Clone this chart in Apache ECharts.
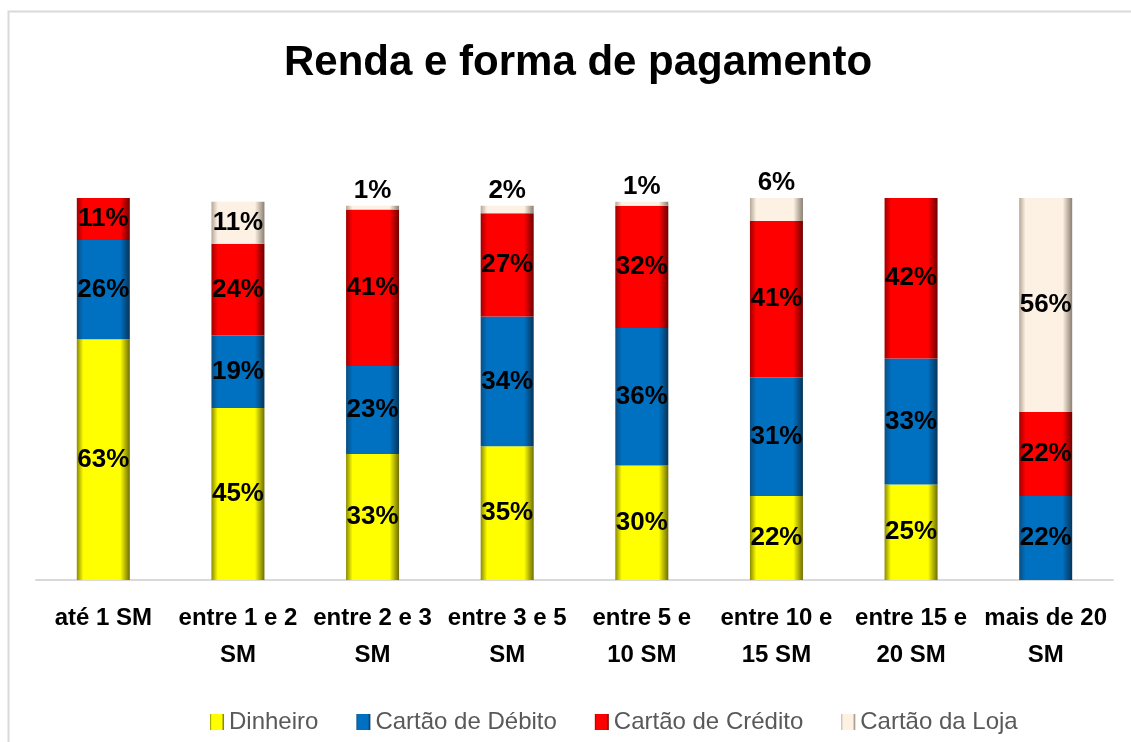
<!DOCTYPE html>
<html>
<head>
<meta charset="utf-8">
<script src="https://cdn.jsdelivr.net/npm/echarts@6/dist/echarts.min.js"></script>
<style>
  html, body { margin: 0; padding: 0; background: #fff; }
  #chart { width: 1131px; height: 742px; }
</style>
</head>
<body>
<div id="chart"></div>
<script>
// categorias (faixas de renda)
var categorias = ['até 1 SM', 'entre 1 e 2\nSM', 'entre 2 e 3\nSM', 'entre 3 e 5\nSM',
  'entre 5 e\n10 SM', 'entre 10 e\n15 SM', 'entre 15 e\n20 SM', 'mais de 20\nSM'];

// percentuais por forma de pagamento
var dinheiro = [63, 45, 33, 35, 30, 22, 25, 0];
var debito   = [26, 19, 23, 34, 36, 31, 33, 22];
var credito  = [11, 24, 41, 27, 32, 41, 42, 22];
var loja     = [0, 11, 1, 2, 1, 6, 0, 56];

var nomes = ['Dinheiro', 'Cartão de Débito', 'Cartão de Crédito', 'Cartão da Loja'];
var cores = [
  ['#8a8a00', '#ffff00', '#6e6e00'],
  ['#0a4d80', '#0070c0', '#06345a'],
  ['#a00000', '#ff0000', '#6e0000'],
  ['#b5a796', '#fdf1e4', '#8c7f72']
];

// gradiente horizontal p/ imitar o chanfro das barras do Excel
function grad(c) {
  return new echarts.graphic.LinearGradient(0, 0, 1, 0, [
    { offset: 0, color: c[0] },
    { offset: 0.12, color: c[1] },
    { offset: 0.82, color: c[1] },
    { offset: 1, color: c[2] }
  ]);
}

function serie(nome, valores, idx) {
  return {
    name: nome,
    type: 'bar',
    stack: 'total',
    barWidth: 53,
    itemStyle: { color: grad(cores[idx]) },
    label: {
      show: true,
      position: 'inside',
      color: '#000',
      fontWeight: 'bold',
      fontSize: 26,
      fontFamily: 'Liberation Sans',
      formatter: function (p) { return p.value ? p.value + '%' : ''; }
    },
    // valores pequenos ficam com o rótulo acima da barra
    data: valores.map(function (v) {
      if (v > 0 && v <= 6) {
        return { value: v, label: { position: 'top', distance: 2 } };
      }
      return v;
    })
  };
}

var chart = echarts.init(document.getElementById('chart'));
var option = {
  backgroundColor: '#fff',
  animation: false,
  graphic: [{
    type: 'rect',
    shape: { x: 8.5, y: 11.5, width: 1200, height: 800 },
    style: { fill: 'none', stroke: '#d9d9d9', lineWidth: 2 },
    silent: true
  }],
  title: {
    text: 'Renda e forma de pagamento',
    left: 279,
    top: 37,
    textStyle: {
      fontFamily: 'Liberation Sans',
      fontWeight: 'bold',
      fontSize: 42,
      color: '#000'
    }
  },
  legend: {
    data: nomes,
    bottom: 3,
    left: 205,
    icon: 'rect',
    itemWidth: 14,
    itemHeight: 16,
    itemGap: 38,
    textStyle: {
      fontFamily: 'Liberation Sans',
      fontSize: 24,
      color: '#595959'
    }
  },
  grid: { left: 36, right: 18, top: 198, bottom: 162 },
  xAxis: {
    type: 'category',
    data: categorias,
    axisLine: { lineStyle: { color: '#d9d9d9', width: 2 } },
    axisTick: { show: false },
    axisLabel: {
      margin: 20,
      interval: 0,
      color: '#000',
      fontWeight: 'bold',
      fontSize: 24,
      lineHeight: 37,
      fontFamily: 'Liberation Sans'
    }
  },
  yAxis: {
    type: 'value',
    min: 0,
    max: 100,
    show: false,
    splitLine: { show: false }
  },
  series: [
    serie(nomes[0], dinheiro, 0),
    serie(nomes[1], debito, 1),
    serie(nomes[2], credito, 2),
    serie(nomes[3], loja, 3)
  ]
};
chart.setOption(option);
</script>
</body>
</html>
